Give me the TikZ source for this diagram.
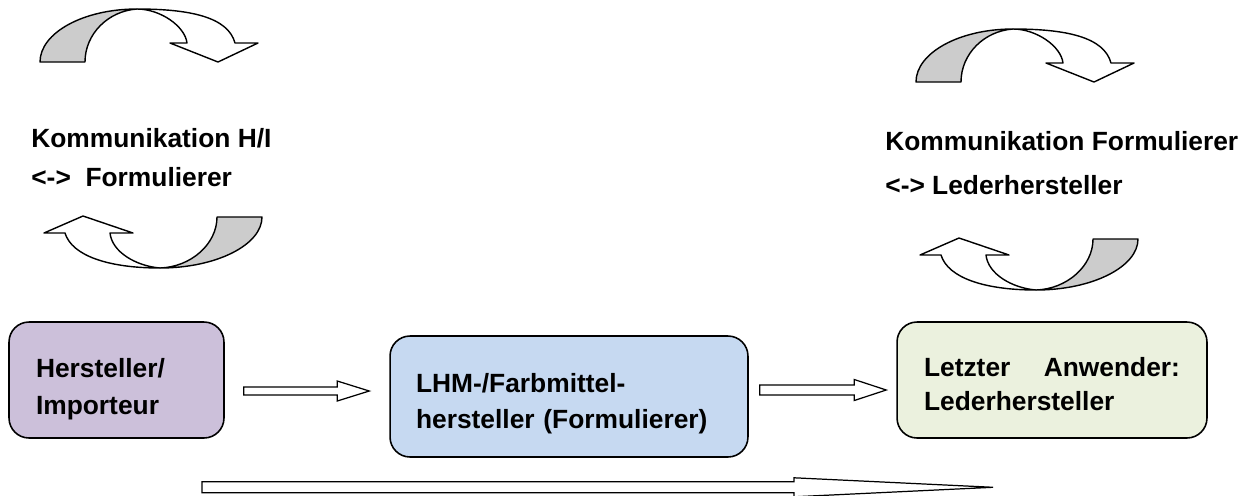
\documentclass[tikz,border=0pt]{standalone}
\usepackage{fontspec}
\setmainfont{Liberation Sans}
\usetikzlibrary{positioning,calc}

\definecolor{herstfill}{HTML}{CCC0DA}
\definecolor{formfill}{HTML}{C6D9F1}
\definecolor{lederfill}{HTML}{EBF1DE}

% outlined block arrow: start, tip, shaft half width, head half width, head length
\newcommand{\blockarrow}[5]{%
    \draw[blockar] ($(#1)+(0,-#3)$) -- ($(#2)+(-#5,-#3)$) -- ($(#2)+(-#5,-#4)$) -- (#2)
        -- ($(#2)+(-#5,#4)$) -- ($(#2)+(-#5,#3)$) -- ($(#1)+(0,#3)$) -- cycle;}

\begin{document}
\begin{tikzpicture}[
    x=0.02cm, y=-0.02cm,
    box/.style={draw,line width=0.9pt,rounded corners=0.4cm,align=left,
        inner xsep=0.54cm,inner ysep=0pt,font=\fontsize{15}{21}\selectfont\bfseries},
    lbl/.style={anchor=base west,align=left,inner sep=0pt,
        font=\fontsize{15}{22}\selectfont\bfseries},
    band/.style={draw,line width=0.8pt,line join=round},
    blockar/.style={draw,line width=0.7pt,fill=white,line join=miter},
    curvedown/.pic={
        \filldraw[band,fill=gray!40] (0,0) .. controls (0,-29) and (43,-53) .. (97,-53)
            .. controls (68,-51) and (45,-28) .. (45,0) -- cycle;
        \filldraw[band,fill=white] (97,-53) .. controls (120,-53) and (145,-36) .. (147,-19)
            -- (130,-19) -- (178,0) -- (218,-19) -- (195,-19)
            .. controls (188,-45) and (150,-53) .. (97,-53) -- cycle;
    },
    curveup/.pic={
        \filldraw[band,fill=gray!40] (173,1) -- (218,1) .. controls (218,29) and (172,52) .. (116,52)
            .. controls (147,51) and (173,28) .. (173,1) -- cycle;
        \filldraw[band,fill=white] (116,52) .. controls (92,50) and (68,36) .. (66,17)
            -- (89,17) -- (39,0) -- (0,17) -- (21,17)
            .. controls (28,40) and (65,52) .. (116,52) -- cycle;
    }
]
\useasboundingbox (0,0) rectangle (1250,495);

% communication loops
\pic at (40,62) {curvedown};
\pic at (44,216) {curveup};
\pic at (916,82) {curvedown};
\pic at (920,238) {curveup};

% base anchor sits on the last line
\node[lbl] (kommhi) at (31,186) {Kommunikation H/I\\<->\ \ Formulierer};
\node[lbl] (kommform) at (885,194) {Kommunikation Formulierer\\[3pt]<-> Lederhersteller};

% supply chain
\node[box,fill=herstfill,minimum width=4.3cm,minimum height=2.32cm,text width=3.22cm,
    text height=21pt]
    (herst) at (116.5,380) {Hersteller/\\Importeur};
\node[box,fill=formfill,minimum width=7.16cm,minimum height=2.42cm,inner xsep=0.52cm,text width=6.12cm,
    text height=19pt]
    (lhm) at (569,396.5) {LHM-/Farbmittel-\\hersteller (Formulierer)};
\node[box,fill=lederfill,minimum width=6.2cm,minimum height=2.32cm,text width=5.12cm,
    text height=15.5pt,font=\fontsize{15}{19}\selectfont\bfseries]
    (letzt) at (1052,380) {Letzter\hfill Anwender:\\Lederhersteller};

\coordinate (a1s) at ($(herst.east)+(19,11)$);
\coordinate (a1e) at ($(lhm.west)+(-20,-5.5)$);
\blockarrow{a1s}{a1e}{4}{10}{32}
\coordinate (a2s) at ($(lhm.east)+(11,-6.5)$);
\coordinate (a2e) at ($(letzt.west)+(-10,10)$);
\blockarrow{a2s}{a2e}{5}{10.5}{32}
\coordinate (a3s) at ($(herst.south)+(85.5,48.5)$);
\coordinate (a3e) at ($(letzt.south)+(-59,48.5)$);
\blockarrow{a3s}{a3e}{5.5}{9.5}{199}

\end{tikzpicture}
\end{document}
